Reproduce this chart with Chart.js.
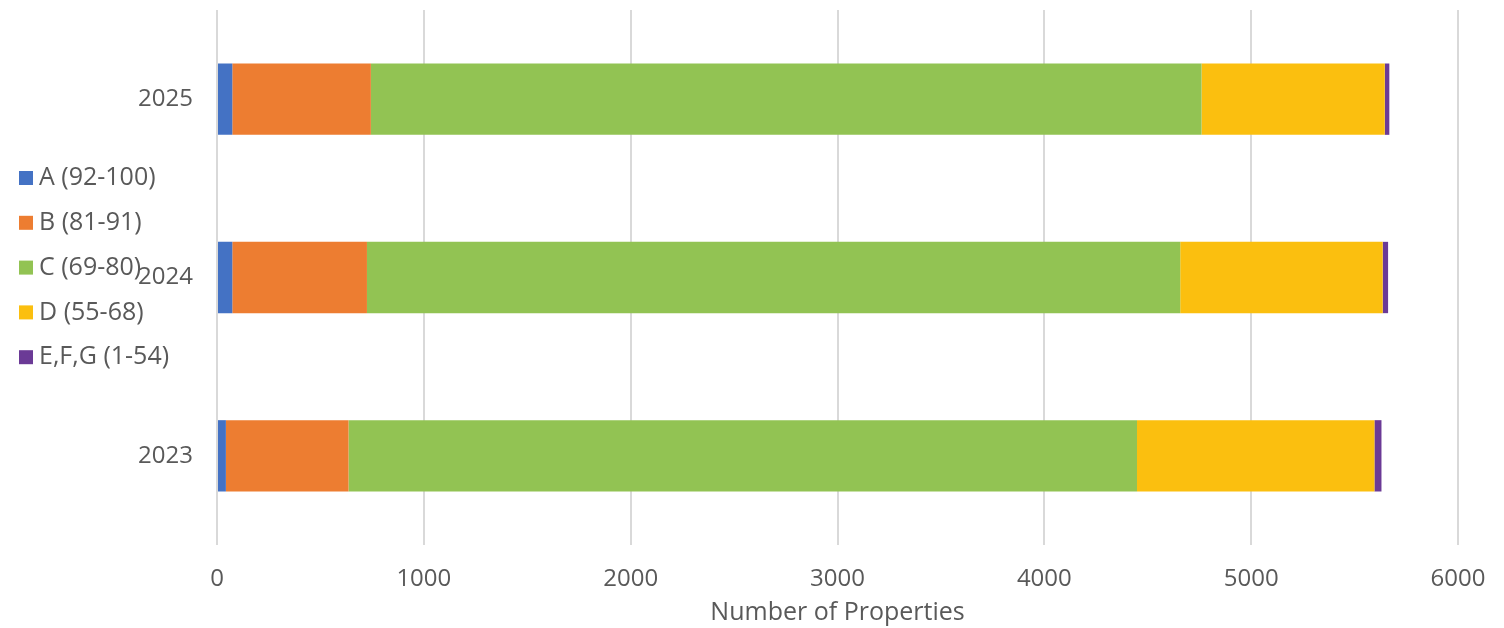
<!DOCTYPE html>
<html>
<head>
<meta charset="utf-8">
<script src="https://cdn.jsdelivr.net/npm/chart.js@4/dist/chart.umd.min.js"></script>
<style>
  html, body { margin: 0; padding: 0; background: #fff; }
  #wrap { width: 1504px; height: 628px; }
</style>
</head>
<body>
<div id="wrap"><canvas id="ratingChart" width="1504" height="628"></canvas></div>
<script>
// Rating bands per year, number of properties
const years = ["2025", "2024", "2023"];
const bandA = [74, 74, 43];
const bandB = [670, 651, 593];
const bandC = [4016, 3932, 3812];
const bandD = [886, 979, 1148];
const bandEFG = [22, 26, 34];

const bandLabels = ["A (92-100)", "B (81-91)", "C (69-80)", "D (55-68)", "E,F,G (1-54)"];
const bandColors = ["#4472C4", "#ED7D31", "#92C353", "#FBBF0F", "#6B3A96"];
const xTicks = [0, 1000, 2000, 3000, 4000, 5000, 6000];

const textColor = "#595959";
const fontFamily = "'Open Sans', 'Liberation Sans', sans-serif";

// legend sits in the left margin, over the y labels
const sideLegend = {
  id: "sideLegend",
  afterDraw(chart) {
    const ctx = chart.ctx;
    ctx.save();
    ctx.font = "25px " + fontFamily;
    ctx.textBaseline = "middle";
    ctx.textAlign = "left";
    chart.data.datasets.forEach((ds, i) => {
      const y = 178 + i * 44.8;
      ctx.fillStyle = ds.backgroundColor;
      ctx.fillRect(19, y - 7, 14, 14);
      ctx.fillStyle = textColor;
      ctx.fillText(ds.label, 39, y);
    });
    ctx.restore();
  }
};

const series = [bandA, bandB, bandC, bandD, bandEFG];

new Chart(document.getElementById("ratingChart").getContext("2d"), {
  type: "bar",
  data: {
    labels: years,
    datasets: series.map((values, i) => ({
      label: bandLabels[i],
      data: values,
      backgroundColor: bandColors[i],
      borderWidth: 0,
      barPercentage: 0.4,
      categoryPercentage: 1.0,
    })),
  },
  options: {
    indexAxis: "y",
    responsive: false,
    animation: false,
    layout: { padding: { top: 10, right: 46, bottom: 0, left: 0 } },
    plugins: {
      legend: { display: false },
      tooltip: { enabled: false },
    },
    scales: {
      x: {
        stacked: true,
        min: 0,
        max: 6000,
        afterBuildTicks(scale) {
          scale.ticks = xTicks.map((v) => ({ value: v }));
        },
        afterFit(scale) {
          scale.height = 83;
          scale.paddingLeft = 0;
          scale.paddingRight = 0;
        },
        grid: { color: "#d9d9d9", lineWidth: 2, drawTicks: false },
        border: { display: false },
        ticks: {
          color: textColor,
          font: { family: fontFamily, size: 24 },
          padding: 20,
          callback: (v) => String(v),
        },
        title: {
          display: true,
          text: "Number of Properties",
          color: textColor,
          font: { family: fontFamily, size: 25 },
          padding: { top: 0, bottom: 0 },
        },
      },
      y: {
        stacked: true,
        afterFit(scale) {
          scale.width = 217;
          scale.paddingTop = 0;
          scale.paddingBottom = 0;
        },
        grid: { display: false, drawTicks: false },
        border: { display: false },
        ticks: {
          color: textColor,
          font: { family: fontFamily, size: 24 },
          padding: 24,
        },
      },
    },
  },
  plugins: [sideLegend],
});
</script>
</body>
</html>
